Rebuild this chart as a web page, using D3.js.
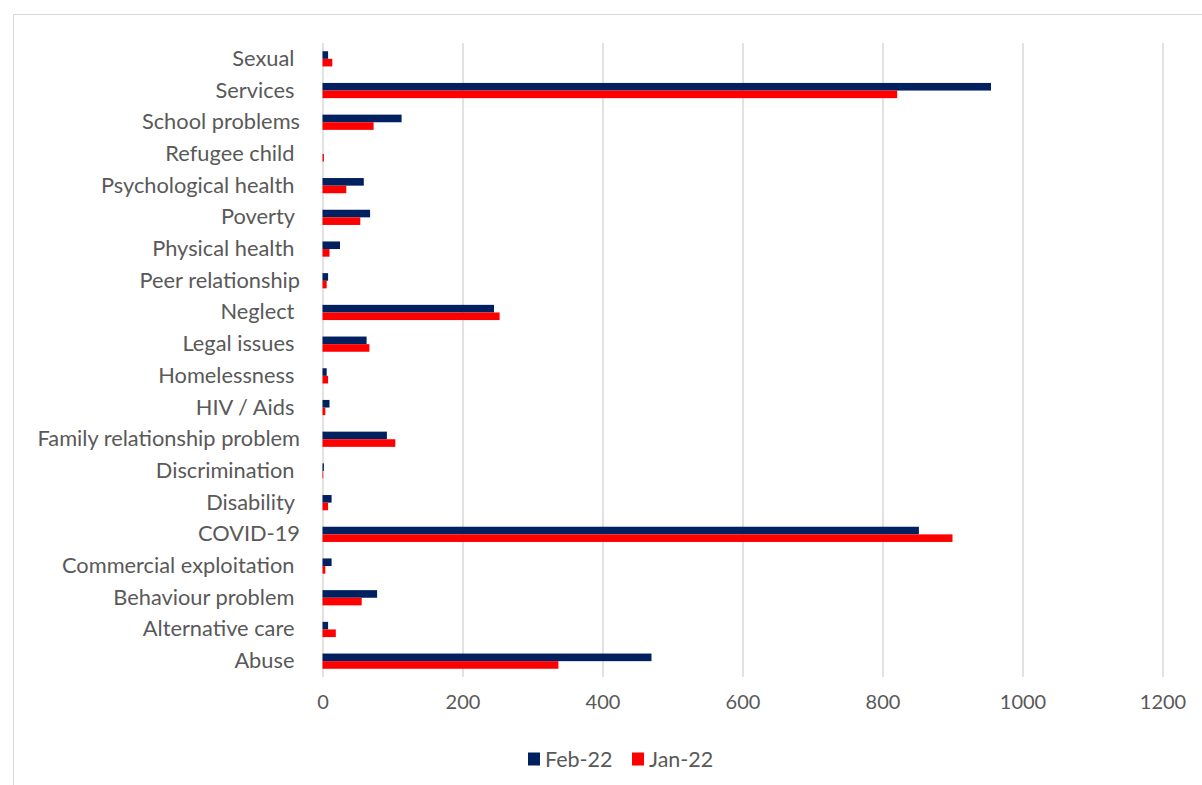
<!DOCTYPE html>
<html>
<head>
<meta charset="utf-8">
<script src="https://cdn.jsdelivr.net/npm/d3@7"></script>
<style>
  html, body { margin: 0; padding: 0; background: #fff; }
  svg text { font-family: "Lato", "Open Sans", sans-serif; fill: #595959; white-space: pre; }
</style>
</head>
<body>
<svg id="chart" width="1202" height="785"></svg>
<script>
const categories = [
  "Sexual ", "Services ", "School problems", "Refugee child ", "Psychological health ",
  "Poverty ", "Physical health ", "Peer relationship", "Neglect ", "Legal issues ",
  "Homelessness ", "HIV / Aids ", "Family relationship problem", "Discrimination ",
  "Disability ", "COVID-19", "Commercial exploitation ", "Behaviour problem ",
  "Alternative care ", "Abuse "
];
const feb22 = [8, 955, 113, 0, 59, 68, 25, 8, 245, 63, 6, 10, 92, 2, 13, 852, 13, 78, 8, 470];
const jan22 = [14, 821, 73, 2, 34, 54, 10, 6, 253, 67, 8, 4, 104, 1, 8, 900, 4, 56, 19, 337];
const seriesNames = ["Feb-22", "Jan-22"];
const seriesColors = ["#002060", "#FF0000"];
const xTicks = [0, 200, 400, 600, 800, 1000, 1200];

(function () {
const svg = d3.select("#chart");

// outer frame
svg.append("rect").attr("x", 13.5).attr("y", 14.5).attr("width", 1202).attr("height", 800)
  .attr("fill", "none").attr("stroke", "#d9d9d9").attr("stroke-width", 1);

const mLeft = 322.5, mRight = 1162.5, mTop = 43, mBottom = 677;
const x = d3.scaleLinear().domain([0, 1200]).range([mLeft, mRight]);
const y = d3.scaleBand().domain(categories).range([mTop, mBottom]).paddingInner(0.52).paddingOuter(0.26);
const ySub = d3.scaleBand().domain(seriesNames).range([0, y.bandwidth()]);

// gridlines
const grid = svg.append("g")
  .attr("transform", `translate(0,${mBottom})`)
  .call(d3.axisBottom(x).tickValues(xTicks).tickSize(-(mBottom - mTop)).tickFormat(""));
grid.select(".domain").remove();
grid.selectAll("line").attr("stroke", "#d9d9d9").attr("stroke-width", 1.5);

// x tick labels
const xa = svg.append("g")
  .attr("transform", `translate(0,${mBottom})`)
  .call(d3.axisBottom(x).tickValues(xTicks).tickSize(0).tickPadding(18).tickFormat(d3.format("d")));
xa.select(".domain").remove();
xa.selectAll("text").attr("font-size", 20).style("font-family", "Lato, sans-serif").attr("fill", "#595959");

// bars
const data = categories.map((c, i) => ({ c, vals: [feb22[i], jan22[i]] }));
const groups = svg.append("g").selectAll("g").data(data).join("g")
  .attr("transform", d => `translate(0,${y(d.c)})`);
groups.selectAll("rect").data(d => d.vals.map((v, j) => ({ v, s: seriesNames[j], j })))
  .join("rect")
  .attr("x", x(0))
  .attr("y", d => ySub(d.s))
  .attr("width", d => x(d.v) - x(0))
  .attr("height", ySub.bandwidth())
  .attr("fill", d => seriesColors[d.j]);

// category labels
const ya = svg.append("g")
  .attr("transform", `translate(300,0)`)
  .call(d3.axisLeft(y).tickSize(0).tickPadding(0));
ya.select(".domain").remove();
ya.selectAll("text").attr("font-size", 21.8).style("font-family", "Lato, sans-serif").attr("fill", "#595959")
  .style("white-space", "pre");

// legend
const legend = svg.append("g").attr("transform", "translate(528,759)");
const legX = [0, 104];
seriesNames.forEach((s, i) => {
  const g = legend.append("g").attr("transform", `translate(${legX[i]},0)`);
  g.append("rect").attr("x", 0).attr("y", -6.5).attr("width", 12).attr("height", 13).attr("fill", seriesColors[i]);
  g.append("text").attr("x", 17).attr("y", 0).attr("dy", "0.35em").attr("font-size", 21.5).text(s);
});
})();
</script>
</body>
</html>
